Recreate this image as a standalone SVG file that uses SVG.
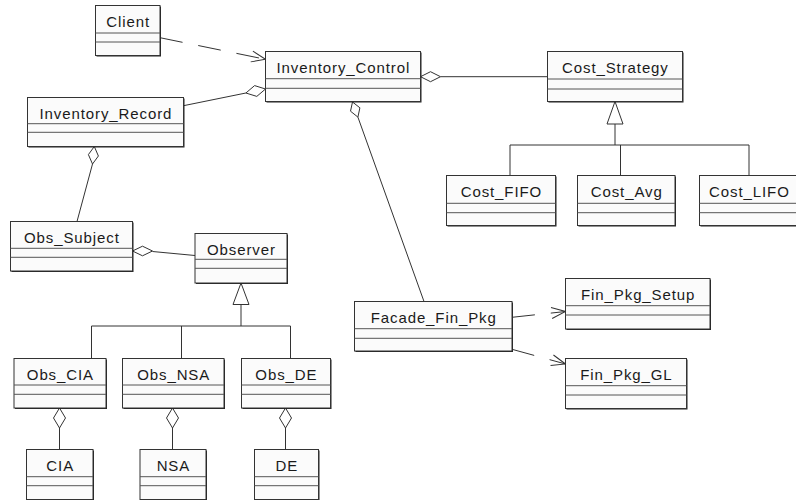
<svg xmlns="http://www.w3.org/2000/svg" width="796" height="500" viewBox="0 0 796 500">
  <style>
    .box rect.body { fill: #fbfbfb; stroke: #333; stroke-width: 1; }
    .box rect.shadow { fill: #222; stroke: none; }
    .box line { stroke: #555; stroke-width: 1; }
    .box text { font-family: "Liberation Sans", Arial, sans-serif; font-size: 15px; letter-spacing: 0.9px; fill: #1a1a1a; text-anchor: middle; }
    .conn line, .conn path, .conn polyline { stroke: #333; stroke-width: 1; fill: none; }
    .conn .dash { stroke-dasharray: 23 16; }
    .conn polygon { stroke: #333; stroke-width: 1; fill: #fff; }
  </style>
  <defs>
    <marker id="openArrow" markerUnits="userSpaceOnUse" markerWidth="20" markerHeight="16" refX="15" refY="6" orient="auto" overflow="visible">
      <path d="M1,0.5 L15,6 L1,11.5" fill="none" stroke="#333" stroke-width="1" stroke-dasharray="none"/>
    </marker>
  </defs>

  <!-- connectors -->
  <g id="connectors" class="conn">
    <!-- Client uses Inventory_Control -->
    <line class="dash" x1="160" y1="37.7" x2="265.5" y2="59.3" marker-end="url(#openArrow)"/>
    <!-- Inventory_Control aggregates Inventory_Record -->
    <line x1="183.5" y1="105.7" x2="245.9" y2="93"/>
    <polygon points="265.5,89 254.6,85.6 245.9,93 256.8,96.4"/>
    <!-- Inventory_Control aggregates Cost_Strategy -->
    <line x1="440.5" y1="76.7" x2="547.5" y2="76.7"/>
    <polygon points="420.5,76.7 430.5,71.7 440.5,76.7 430.5,81.7"/>
    <!-- Inventory_Control aggregates Facade_Fin_Pkg -->
    <line x1="357.9" y1="117.1" x2="424" y2="301.5"/>
    <polygon points="352.5,102 359.9,107.8 357.9,117.1 350.5,111.2"/>
    <!-- Cost strategies generalization -->
    <polyline points="615,124 615,145"/>
    <line x1="510" y1="145" x2="749" y2="145"/>
    <line x1="510" y1="145" x2="510" y2="175.5"/>
    <line x1="620.5" y1="145" x2="620.5" y2="175.5"/>
    <line x1="749" y1="145" x2="749" y2="175.5"/>
    <polygon points="615,101.5 607,124 623,124"/>
    <!-- Inventory_Record aggregates Obs_Subject -->
    <line x1="92.5" y1="164" x2="77" y2="221.5"/>
    <polygon points="94.3,146.5 98.4,156 92.5,164 88.4,154.6"/>
    <!-- Obs_Subject aggregates Observer -->
    <line x1="152.5" y1="251.5" x2="195" y2="255.5"/>
    <polygon points="132.5,251 142.5,246.2 152.5,251 142.5,255.8"/>
    <!-- Observer generalization -->
    <line x1="241" y1="304.5" x2="241" y2="326"/>
    <line x1="91.5" y1="326" x2="290.5" y2="326"/>
    <line x1="91.5" y1="326" x2="91.5" y2="358.5"/>
    <line x1="181.5" y1="326" x2="181.5" y2="358.5"/>
    <line x1="290.5" y1="326" x2="290.5" y2="358.5"/>
    <polygon points="241,283 233,304.5 249,304.5"/>
    <!-- Observers aggregate their agencies -->
    <line x1="59.5" y1="428" x2="59.5" y2="449.5"/>
    <polygon points="59.5,408 65.5,418 59.5,428 53.5,418"/>
    <line x1="172.5" y1="428" x2="172.5" y2="449.5"/>
    <polygon points="172.5,408 178.5,418 172.5,428 166.5,418"/>
    <line x1="285.5" y1="428" x2="285.5" y2="449.5"/>
    <polygon points="285.5,408 291.5,418 285.5,428 279.5,418"/>
    <!-- Facade uses the finance package classes -->
    <line class="dash" x1="512" y1="317.3" x2="565.5" y2="311.5" marker-end="url(#openArrow)"/>
    <line class="dash" x1="512" y1="349.3" x2="565.5" y2="364" marker-end="url(#openArrow)"/>
  </g>

  <!-- classes -->
  <g id="Client" class="box">
    <rect class="shadow" x="96.5" y="6.5" width="64.5" height="50"/>
    <rect class="body" x="95.5" y="5.5" width="64.5" height="50"/>
    <line x1="95.5" y1="33" x2="160" y2="33"/><line x1="95.5" y1="42" x2="160" y2="42"/>
    <text x="128.2" y="26.8">Client</text>
  </g>
  <g id="Inventory_Control" class="box">
    <rect class="shadow" x="266.5" y="52.5" width="155" height="50"/>
    <rect class="body" x="265.5" y="51.5" width="155" height="50"/>
    <line x1="265.5" y1="78.7" x2="420.5" y2="78.7"/><line x1="265.5" y1="88.3" x2="420.5" y2="88.3"/>
    <text x="343.4" y="72.8">Inventory_Control</text>
  </g>
  <g id="Inventory_Record" class="box">
    <rect class="shadow" x="28.5" y="98.5" width="156" height="49"/>
    <rect class="body" x="27.5" y="97.5" width="156" height="49"/>
    <line x1="27.5" y1="123.7" x2="183.5" y2="123.7"/><line x1="27.5" y1="132.3" x2="183.5" y2="132.3"/>
    <text x="105.9" y="118.8">Inventory_Record</text>
  </g>
  <g id="Cost_Strategy" class="box">
    <rect class="shadow" x="548.5" y="52.5" width="135" height="50"/>
    <rect class="body" x="547.5" y="51.5" width="135" height="50"/>
    <line x1="547.5" y1="79" x2="682.5" y2="79"/><line x1="547.5" y1="89" x2="682.5" y2="89"/>
    <text x="615.4" y="72.8">Cost_Strategy</text>
  </g>
  <g id="Cost_FIFO" class="box">
    <rect class="shadow" x="447.5" y="176.5" width="109" height="50"/>
    <rect class="body" x="446.5" y="175.5" width="109" height="50"/>
    <line x1="446.5" y1="203.3" x2="555.5" y2="203.3"/><line x1="446.5" y1="212.7" x2="555.5" y2="212.7"/>
    <text x="501.4" y="197">Cost_FIFO</text>
  </g>
  <g id="Cost_Avg" class="box">
    <rect class="shadow" x="578.5" y="176.5" width="97.5" height="50"/>
    <rect class="body" x="577.5" y="175.5" width="97.5" height="50"/>
    <line x1="577.5" y1="203.3" x2="675" y2="203.3"/><line x1="577.5" y1="212.7" x2="675" y2="212.7"/>
    <text x="626.7" y="197">Cost_Avg</text>
  </g>
  <g id="Cost_LIFO" class="box">
    <rect class="shadow" x="700.5" y="176.5" width="99" height="50"/>
    <rect class="body" x="699.5" y="175.5" width="99" height="50"/>
    <line x1="699.5" y1="203.3" x2="798.5" y2="203.3"/><line x1="699.5" y1="212.7" x2="798.5" y2="212.7"/>
    <text x="749.4" y="197">Cost_LIFO</text>
  </g>
  <g id="Obs_Subject" class="box">
    <rect class="shadow" x="11.5" y="222.5" width="122" height="49.5"/>
    <rect class="body" x="10.5" y="221.5" width="122" height="49.5"/>
    <line x1="10.5" y1="248.3" x2="132.5" y2="248.3"/><line x1="10.5" y1="257.3" x2="132.5" y2="257.3"/>
    <text x="71.9" y="242.8">Obs_Subject</text>
  </g>
  <g id="Observer" class="box">
    <rect class="shadow" x="196" y="234.5" width="92" height="49.5"/>
    <rect class="body" x="195" y="233.5" width="92" height="49.5"/>
    <line x1="195" y1="259.3" x2="287" y2="259.3"/><line x1="195" y1="268.3" x2="287" y2="268.3"/>
    <text x="241.4" y="254.8">Observer</text>
  </g>
  <g id="Obs_CIA" class="box">
    <rect class="shadow" x="15" y="359.5" width="92" height="49.5"/>
    <rect class="body" x="14" y="358.5" width="92" height="49.5"/>
    <line x1="14" y1="385" x2="106" y2="385"/><line x1="14" y1="394.3" x2="106" y2="394.3"/>
    <text x="60.4" y="379.8">Obs_CIA</text>
  </g>
  <g id="Obs_NSA" class="box">
    <rect class="shadow" x="123.5" y="359.5" width="101.5" height="49.5"/>
    <rect class="body" x="122.5" y="358.5" width="101.5" height="49.5"/>
    <line x1="122.5" y1="385" x2="224" y2="385"/><line x1="122.5" y1="394.3" x2="224" y2="394.3"/>
    <text x="173.7" y="379.8">Obs_NSA</text>
  </g>
  <g id="Obs_DE" class="box">
    <rect class="shadow" x="242.5" y="359.5" width="89" height="49.5"/>
    <rect class="body" x="241.5" y="358.5" width="89" height="49.5"/>
    <line x1="241.5" y1="385" x2="330.5" y2="385"/><line x1="241.5" y1="394.3" x2="330.5" y2="394.3"/>
    <text x="286.4" y="379.8">Obs_DE</text>
  </g>
  <g id="CIA" class="box">
    <rect class="shadow" x="27.5" y="450.5" width="66.5" height="50"/>
    <rect class="body" x="26.5" y="449.5" width="66.5" height="50"/>
    <line x1="26.5" y1="476.7" x2="93" y2="476.7"/><line x1="26.5" y1="485.7" x2="93" y2="485.7"/>
    <text x="60.2" y="471">CIA</text>
  </g>
  <g id="NSA" class="box">
    <rect class="shadow" x="141" y="450.5" width="66" height="50"/>
    <rect class="body" x="140" y="449.5" width="66" height="50"/>
    <line x1="140" y1="476.7" x2="206" y2="476.7"/><line x1="140" y1="485.7" x2="206" y2="485.7"/>
    <text x="173.4" y="471">NSA</text>
  </g>
  <g id="DE" class="box">
    <rect class="shadow" x="255.5" y="450.5" width="64" height="50"/>
    <rect class="body" x="254.5" y="449.5" width="64" height="50"/>
    <line x1="254.5" y1="476.7" x2="318.5" y2="476.7"/><line x1="254.5" y1="485.7" x2="318.5" y2="485.7"/>
    <text x="286.9" y="471">DE</text>
  </g>
  <g id="Facade_Fin_Pkg" class="box">
    <rect class="shadow" x="355.5" y="302.5" width="157.5" height="49.5"/>
    <rect class="body" x="354.5" y="301.5" width="157.5" height="49.5"/>
    <line x1="354.5" y1="328.7" x2="512" y2="328.7"/><line x1="354.5" y1="338.3" x2="512" y2="338.3"/>
    <text x="433.7" y="322.8">Facade_Fin_Pkg</text>
  </g>
  <g id="Fin_Pkg_Setup" class="box">
    <rect class="shadow" x="566.5" y="279.5" width="144.5" height="50.5"/>
    <rect class="body" x="565.5" y="278.5" width="144.5" height="50.5"/>
    <line x1="565.5" y1="305.7" x2="710" y2="305.7"/><line x1="565.5" y1="315" x2="710" y2="315"/>
    <text x="638.2" y="299.8">Fin_Pkg_Setup</text>
  </g>
  <g id="Fin_Pkg_GL" class="box">
    <rect class="shadow" x="566.5" y="359.5" width="121" height="50"/>
    <rect class="body" x="565.5" y="358.5" width="121" height="50"/>
    <line x1="565.5" y1="385.7" x2="686.5" y2="385.7"/><line x1="565.5" y1="395" x2="686.5" y2="395"/>
    <text x="626.4" y="379.8">Fin_Pkg_GL</text>
  </g>
</svg>
